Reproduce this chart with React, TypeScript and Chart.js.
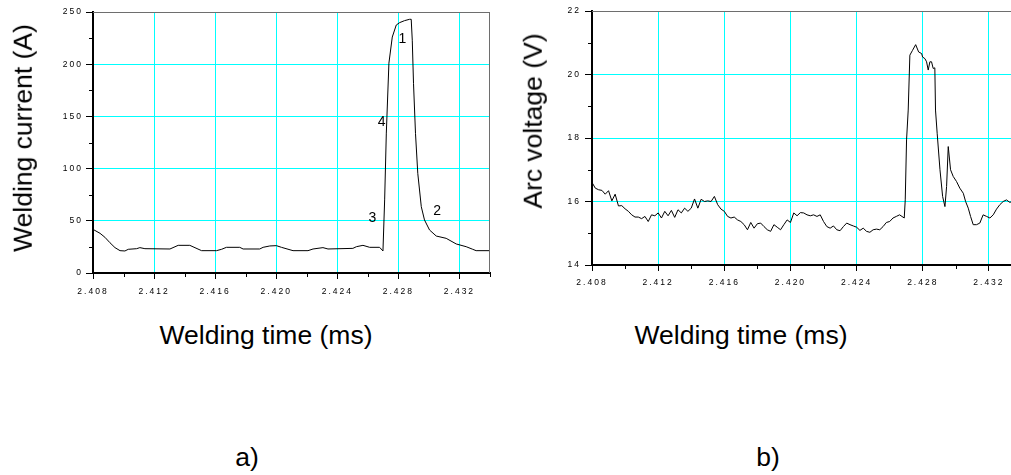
import React, { useEffect, useRef } from 'react';
import { Chart, registerables } from 'chart.js';

Chart.register(...registerables);

// ---------- data ----------
const currentTime = [
  2.408, 2.40846, 2.40878, 2.40911, 2.40944, 2.40977, 2.41009, 2.41031, 2.41086, 2.41107,
  2.4114, 2.41304, 2.41358, 2.41434, 2.41511, 2.41609, 2.41642, 2.41674, 2.41761, 2.41783,
  2.41892, 2.41914, 2.41958, 2.42001, 2.42034, 2.4211, 2.42208, 2.42241, 2.42306, 2.42339,
  2.42502, 2.42525, 2.42568, 2.42612, 2.42677, 2.42699, 2.4271, 2.42721, 2.42738, 2.4276,
  2.42786, 2.42808, 2.4284, 2.42873, 2.42884, 2.42891, 2.42899, 2.42912, 2.42927, 2.4295,
  2.42971, 2.43004, 2.43048, 2.43113, 2.43179, 2.43244, 2.43287, 2.43309, 2.43396,
];
const currentValue = [
  41.8, 38.0, 34.2, 29.0, 24.3, 21.4, 21.1, 22.7, 23.3, 24.3,
  23.3, 23.0, 26.5, 26.5, 21.4, 21.4, 22.7, 24.6, 24.6, 23.0,
  23.0, 24.6, 25.9, 26.2, 24.6, 21.4, 21.4, 23.0, 24.3, 23.0,
  23.6, 25.2, 26.5, 24.6, 24.6, 21.1, 70, 134, 201, 226,
  237.5, 239.8, 241.7, 243, 243, 223, 181.7, 133.8, 95.5, 63.5,
  50.8, 41.2, 35.4, 33.2, 27.8, 25.2, 22.7, 21.4, 21.4,
];

const voltageTime = [
  2.408, 2.4082, 2.4084, 2.4086, 2.4088, 2.409, 2.4092, 2.4094, 2.4096, 2.4098,
  2.41, 2.4102, 2.4104, 2.4106, 2.4108, 2.411, 2.4112, 2.4114, 2.4116, 2.4118,
  2.412, 2.4122, 2.4124, 2.4126, 2.4128, 2.413, 2.4132, 2.4134, 2.4136, 2.4138,
  2.414, 2.4142, 2.4144, 2.4146, 2.4148, 2.415, 2.4152, 2.4154, 2.4156, 2.4158,
  2.416, 2.4162, 2.4164, 2.4166, 2.4168, 2.417, 2.4172, 2.4174, 2.4176, 2.4178,
  2.418, 2.4182, 2.4184, 2.4186, 2.4188, 2.419, 2.4192, 2.4194, 2.4196, 2.4198,
  2.42, 2.4202, 2.4204, 2.4206, 2.4208, 2.421, 2.4212, 2.4214, 2.4216, 2.4218,
  2.422, 2.4222, 2.4224, 2.4226, 2.4228, 2.423, 2.4232, 2.4234, 2.4236, 2.4238,
  2.424, 2.4242, 2.4244, 2.4246, 2.4248, 2.425, 2.4252, 2.4254, 2.4256, 2.4258,
  2.426, 2.4262, 2.4264, 2.4266,
  2.42688, 2.42694, 2.42702, 2.42712, 2.42722, 2.42738, 2.42757, 2.42775, 2.42793, 2.42799,
  2.42813, 2.42823, 2.42833, 2.42843, 2.42853, 2.42863, 2.42873, 2.42877, 2.42887, 2.42904,
  2.4292, 2.42934, 2.42944, 2.42954, 2.42968, 2.42984, 2.43004, 2.43024, 2.43045, 2.43059,
  2.43075, 2.43089, 2.43105, 2.43125, 2.43145, 2.43165, 2.43186, 2.43206, 2.43226, 2.43246,
  2.43266, 2.43286, 2.43306, 2.43327, 2.43345,
];
const voltageValue = [
  16.6, 16.42, 16.37, 16.35, 16.23, 16.34, 16.02, 16.23, 15.86, 15.87,
  15.77, 15.69, 15.58, 15.51, 15.51, 15.46, 15.53, 15.37, 15.58, 15.55,
  15.64, 15.48, 15.69, 15.55, 15.72, 15.5, 15.74, 15.64, 15.79, 15.69,
  15.79, 16.08, 15.79, 16.07, 16.0, 16.02, 16.0, 16.16, 15.9, 15.76,
  15.69, 15.53, 15.48, 15.51, 15.42, 15.37, 15.27, 15.11, 15.34, 15.16,
  15.3, 15.32, 15.21, 15.11, 15.06, 15.27, 15.19, 15.11, 15.27, 15.42,
  15.34, 15.64, 15.55, 15.65, 15.64, 15.58, 15.55, 15.58, 15.53, 15.58,
  15.37, 15.21, 15.16, 15.23, 15.11, 15.08, 15.21, 15.32, 15.27, 15.23,
  15.19, 15.09, 15.16, 15.06, 15.03, 15.11, 15.13, 15.11, 15.21, 15.34,
  15.37, 15.48, 15.53, 15.58,
  15.48, 16.05, 17.94, 18.88, 20.61, 20.76, 20.94, 20.71, 20.66, 20.55,
  20.5, 20.4, 20.14, 20.4, 20.4, 20.19, 20.21, 18.88, 18.15, 17.0,
  16.16, 15.84, 16.47, 17.73, 17.0, 16.79, 16.63, 16.42, 16.26, 16.0,
  15.79, 15.53, 15.27, 15.27, 15.32, 15.58, 15.53, 15.48, 15.58, 15.76,
  15.9, 16.0, 16.05, 15.97, 16.02,
];

const timeTicks = [2.408, 2.412, 2.416, 2.42, 2.424, 2.428, 2.432];
const timeMinorTicks = [2.41, 2.414, 2.418, 2.422, 2.426, 2.43, 2.434];
const currentTicks = [0, 50, 100, 150, 200, 250];
const currentMinorTicks = [25, 75, 125, 175, 225];
const voltageTicks = [14, 16, 18, 20, 22];
const voltageMinorTicks = [15, 17, 19, 21];

const markerText = ['1', '4', '3', '2'];
const markerTime = [2.42826, 2.4269, 2.42629, 2.43054];
const markerValue = [223.8, 144.3, 53.0, 59.7];

// ---------- chart helpers ----------
const FONT = '"Liberation Sans", Arial, Helvetica, sans-serif';

type Spec = {
  times: number[];
  values: number[];
  yMin: number;
  yMax: number;
  yTicks: number[];
  yMinor: number[];
  yWidth: number;
  xHeight: number;
  padTop: number;
  padRight: number;
  xLabelPad: number;
  yLabelPad: number;
  markers?: { text: string[]; t: number[]; v: number[] };
};

function makePlugin(spec: Spec) {
  return {
    id: 'frameAndMinor',
    beforeLayout(chart: any) {
      chart.ctx.letterSpacing = '2px';
    },
    beforeDraw(chart: any) {
      chart.ctx.letterSpacing = '2px';
    },
    afterDatasetsDraw(chart: any) {
      const { ctx, chartArea: a, scales } = chart;
      ctx.save();
      ctx.letterSpacing = '0px';
      // top and right frame
      ctx.strokeStyle = '#6e6e6e';
      ctx.lineWidth = 1;
      ctx.beginPath();
      ctx.moveTo(a.left, Math.round(a.top) + 0.5);
      ctx.lineTo(a.right, Math.round(a.top) + 0.5);
      ctx.moveTo(Math.round(a.right) - 0.5, a.top);
      ctx.lineTo(Math.round(a.right) - 0.5, a.bottom);
      ctx.stroke();
      // minor ticks
      ctx.strokeStyle = '#000';
      ctx.beginPath();
      for (const v of timeMinorTicks) {
        const px = Math.round(scales.x.getPixelForValue(v)) + 0.5;
        ctx.moveTo(px, a.bottom + 1);
        ctx.lineTo(px, a.bottom + 4);
      }
      for (const v of spec.yMinor) {
        const py = Math.round(scales.y.getPixelForValue(v)) + 0.5;
        ctx.moveTo(a.left - 1, py);
        ctx.lineTo(a.left - 4, py);
      }
      ctx.stroke();
      // numbered markers
      if (spec.markers) {
        ctx.fillStyle = '#000';
        ctx.font = `14px ${FONT}`;
        ctx.textAlign = 'center';
        ctx.textBaseline = 'middle';
        spec.markers.text.forEach((txt, i) => {
          ctx.fillText(
            txt,
            scales.x.getPixelForValue(spec.markers!.t[i]),
            scales.y.getPixelForValue(spec.markers!.v[i])
          );
        });
      }
      ctx.restore();
      ctx.letterSpacing = '2px';
    },
  };
}

function makeConfig(spec: Spec): any {
  const points = spec.times.map((t, i) => ({ x: t, y: spec.values[i] }));
  const tickFont = { family: FONT, size: 8.5 };
  return {
    type: 'line',
    data: {
      datasets: [
        {
          data: points,
          borderColor: '#000',
          borderWidth: 1,
          pointRadius: 0,
          tension: 0,
          fill: false,
        },
      ],
    },
    options: {
      animation: false,
      responsive: false,
      events: [],
      layout: { padding: { left: 0, top: spec.padTop, right: spec.padRight, bottom: 0 } },
      plugins: { legend: { display: false }, tooltip: { enabled: false }, title: { display: false } },
      scales: {
        x: {
          type: 'linear',
          min: 2.408,
          max: 2.434,
          afterBuildTicks: (s: any) => {
            s.ticks = timeTicks.map((v) => ({ value: v }));
          },
          afterFit: (s: any) => {
            s.height = spec.xHeight;
          },
          ticks: {
            callback: (v: any) => Number(v).toFixed(3),
            font: tickFont,
            color: '#000',
            padding: spec.xLabelPad,
            maxRotation: 0,
            autoSkip: false,
          },
          grid: { color: '#00ffff', lineWidth: 1, tickColor: '#000', tickLength: 6, tickWidth: 1 },
          border: { color: '#000', width: 2 },
        },
        y: {
          type: 'linear',
          min: spec.yMin,
          max: spec.yMax,
          afterBuildTicks: (s: any) => {
            s.ticks = spec.yTicks.map((v) => ({ value: v }));
          },
          afterFit: (s: any) => {
            s.width = spec.yWidth;
          },
          ticks: {
            font: tickFont,
            color: '#000',
            padding: spec.yLabelPad,
            autoSkip: false,
          },
          grid: { color: '#00ffff', lineWidth: 1, tickColor: '#000', tickLength: 7, tickWidth: 1 },
          border: { color: '#000', width: 2 },
        },
      },
    },
    plugins: [makePlugin(spec)],
  };
}

function ChartCanvas({ spec, left, width, height }: { spec: Spec; left: number; width: number; height: number }) {
  const ref = useRef<HTMLCanvasElement | null>(null);
  useEffect(() => {
    if (!ref.current) return;
    const chart = new Chart(ref.current, makeConfig(spec));
    return () => chart.destroy();
  }, []);
  return (
    <canvas
      ref={ref}
      width={width}
      height={height}
      style={{ position: 'absolute', left, top: 0, width, height, display: 'block' }}
    />
  );
}

const currentSpec: Spec = {
  times: currentTime,
  values: currentValue,
  yMin: 0,
  yMax: 250,
  yTicks: currentTicks,
  yMinor: currentMinorTicks,
  yWidth: 93,
  xHeight: 27,
  padTop: 12,
  padRight: 10,
  xLabelPad: 8,
  yLabelPad: 3,
  markers: { text: markerText, t: markerTime, v: markerValue },
};

const voltageSpec: Spec = {
  times: voltageTime,
  values: voltageValue,
  yMin: 14,
  yMax: 22,
  yTicks: voltageTicks,
  yMinor: voltageMinorTicks,
  yWidth: 92,
  xHeight: 35,
  padTop: 11,
  padRight: 8,
  xLabelPad: 7,
  yLabelPad: 4,
};

const textStyle = (cx: number, cy: number, rotate = false): React.CSSProperties => ({
  position: 'absolute',
  left: cx,
  top: cy,
  transform: `translate(-50%, -50%)${rotate ? ' rotate(-90deg)' : ''}`,
  whiteSpace: 'nowrap',
  fontFamily: FONT,
  fontSize: 26.5,
  lineHeight: 1,
  color: '#000',
});

export default function App() {
  return (
    <div
      style={{
        position: 'fixed',
        left: 0,
        top: 0,
        width: 1011,
        height: 475,
        overflow: 'hidden',
        background: '#fff',
      }}
    >
      <ChartCanvas spec={currentSpec} left={0} width={500} height={300} />
      <ChartCanvas spec={voltageSpec} left={500} width={530} height={300} />
      <div style={textStyle(23, 138, true)}>Welding current (A)</div>
      <div style={textStyle(533, 121, true)}>Arc voltage (V)</div>
      <div style={textStyle(266, 335)}>Welding time (ms)</div>
      <div style={textStyle(741, 335)}>Welding time (ms)</div>
      <div style={textStyle(247, 457)}>a)</div>
      <div style={textStyle(768, 457)}>b)</div>
    </div>
  );
}
